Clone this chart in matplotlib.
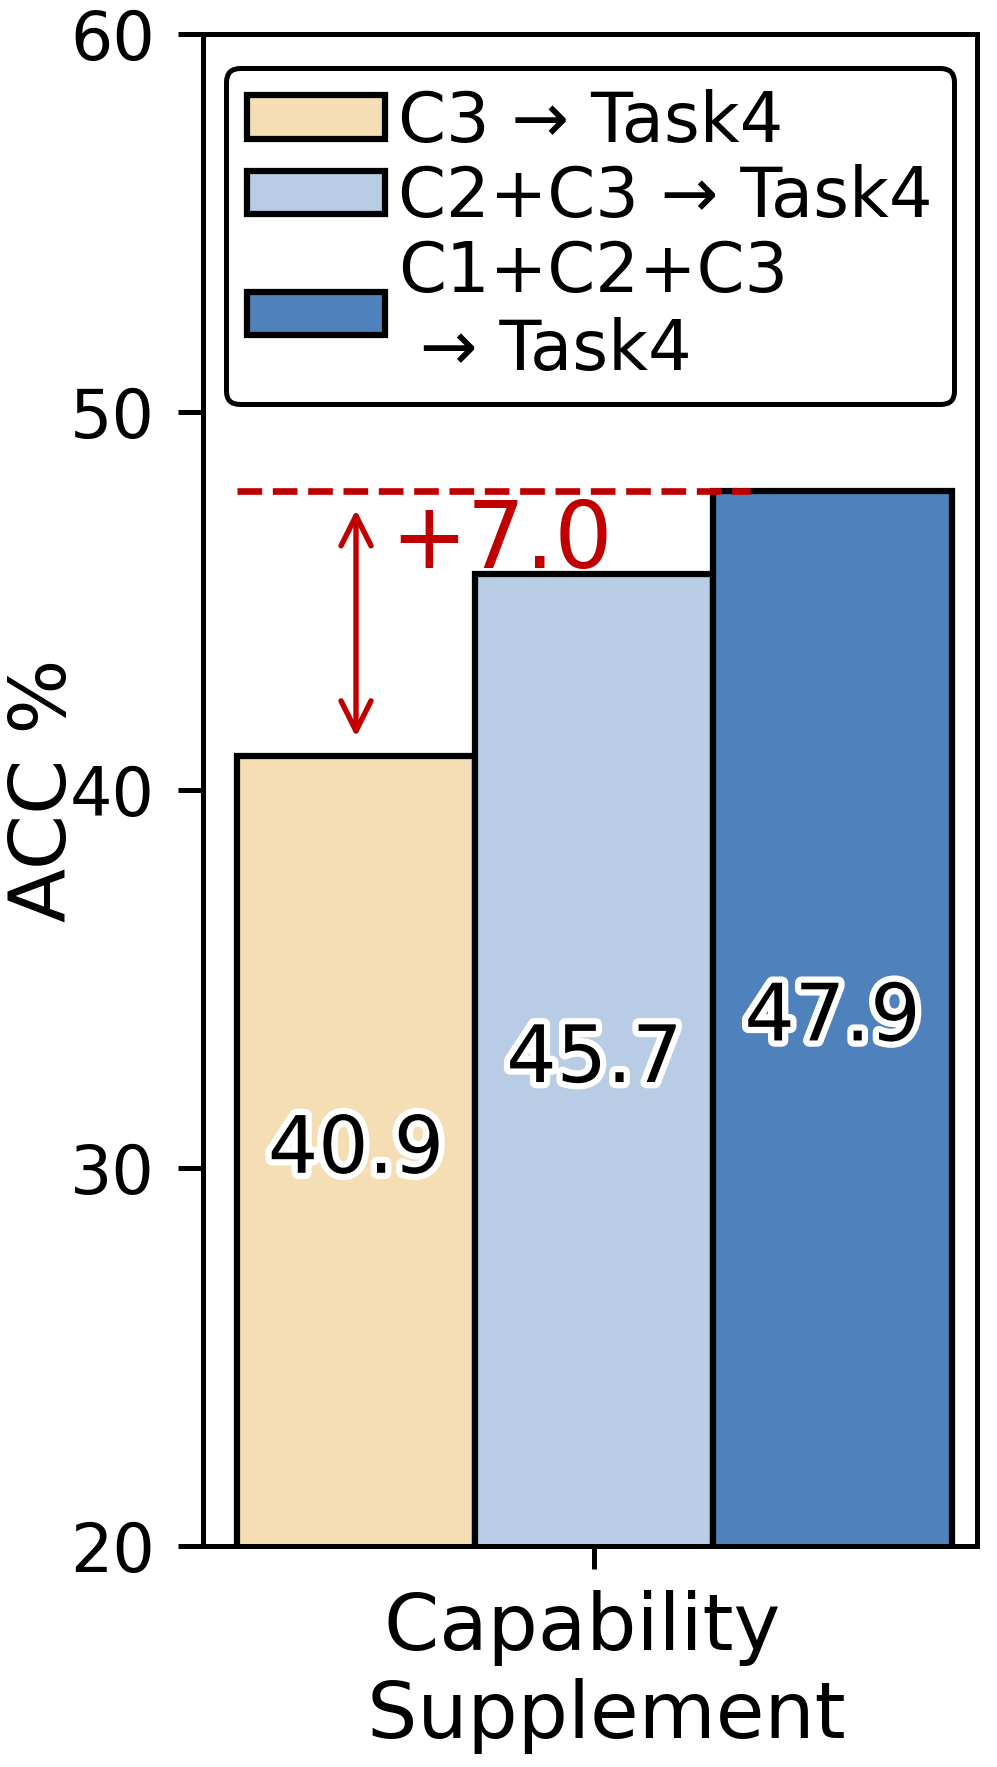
import matplotlib
matplotlib.use("Agg")
import matplotlib.pyplot as plt
import matplotlib.patheffects as pe

# data
labels = ["C3 → Task4", "C2+C3 → Task4", "C1+C2+C3\n → Task4"]
values = [40.9, 45.7, 47.9]
colors = ["#F5DEB3", "#B8CCE6", "#4F81BD"]
group = ["Capability \n Supplement"]
gain = values[2] - values[0]

width = 0.25
offsets = [-width, 0, width]
ymin, ymax = 20, 60
red = "#C00000"

fig = plt.figure(figsize=(997.4 / 300, 1767.4 / 300), dpi=300)
ax = fig.add_axes([0.2031, 0.1251, 0.7769, 0.8557])

for off, v, c, lab in zip(offsets, values, colors, labels):
    ax.bar(off, v, width, color=c, edgecolor="black", linewidth=1.5, label=lab, zorder=2)
    ax.text(off, (ymin + v) / 2, f"{v:.1f}", ha="center", va="center", fontsize=19,
            color="black", zorder=5,
            path_effects=[pe.withStroke(linewidth=3, foreground="white")])

# dashed reference line at the best score
ax.plot([offsets[0] - width / 2, 0.163], [values[2], values[2]], ls="--", lw=1.6,
        color=red, zorder=4)
# double arrow showing the gain
ax.annotate("", xy=(offsets[0], values[2]), xytext=(offsets[0], values[0]),
            arrowprops=dict(arrowstyle="<->", color=red, lw=1.3, shrinkA=4.5, shrinkB=4.5,
                            mutation_scale=18), zorder=4)
ax.text(-0.214, 45.87, f"+{gain:.1f}", color=red, fontsize=22, ha="left", va="baseline",
        zorder=4)

ax.set_ylim(ymin, ymax)
ax.set_xlim(-0.411, 0.402)
ax.set_yticks([20, 30, 40, 50, 60])
ax.set_xticks([0])
ax.set_xticklabels(group, fontsize=19)
ax.tick_params(axis="y", labelsize=16, length=6, width=1.2, pad=5.5)
ax.tick_params(axis="x", length=5.5, width=1.2, pad=5)
for s in ax.spines.values():
    s.set_linewidth(1.2)

ax.set_ylabel("ACC %", fontsize=19)
ax.yaxis.set_label_coords(-0.155, 0.5)

leg = ax.legend(loc="upper center", fontsize=16.5, frameon=True, fancybox=True,
                framealpha=1, edgecolor="black", handletextpad=0.2,
                labelspacing=0.12, borderpad=0.3, handleheight=0.6)
leg.get_frame().set_linewidth(1.2)
for h in leg.legend_handles:
    h.set_linewidth(1.5)

fig.savefig("out.png", dpi=300)
